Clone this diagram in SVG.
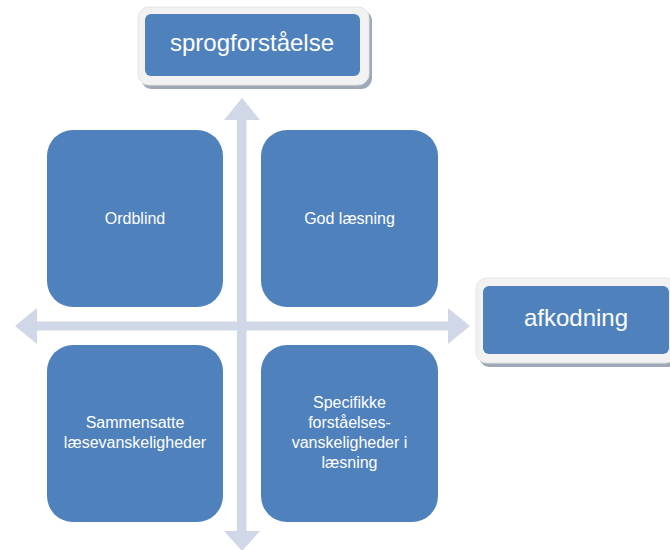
<svg xmlns="http://www.w3.org/2000/svg" width="670" height="550" viewBox="0 0 670 550">
<style>
.q{fill:#4F81BD}
.qt{fill:#FFFFFF;font-family:"Liberation Sans",Arial,sans-serif;font-size:16px;text-anchor:middle}
.lt{fill:#FFFFFF;font-family:"Liberation Sans",Arial,sans-serif;font-size:24px;text-anchor:middle}
.arr{fill:#D0D7E6}
.sh{fill:#9EA8B6}
.fr{fill:#F2F2F2;stroke:#E4E4E4;stroke-width:1}
</style>
<rect width="670" height="550" fill="#FFFFFF"/>
<g id="connectors">
<polygon class="arr" points="15,326 37,308 37,321.5 237,321.5 237,120 224,120 242,98 260,120 246.5,120 246.5,321.5 448,321.5 448,308 470,326 448,344 448,330.5 246.5,330.5 246.5,531 260,531 242,551 224,531 237,531 237,330.5 37,330.5 37,344"/>
</g>
<g id="ordblind">
<rect class="q" x="47" y="130" width="176" height="177" rx="26"/>
<text class="qt" x="135" y="224">Ordblind</text>
</g>
<g id="god-laesning">
<rect class="q" x="261" y="130" width="177" height="177" rx="26"/>
<text class="qt" x="349.5" y="224">God læsning</text>
</g>
<g id="sammensatte">
<rect class="q" x="47" y="345" width="176" height="177" rx="26"/>
<text class="qt" x="135" y="428">Sammensatte</text>
<text class="qt" x="135" y="448">læsevanskeligheder</text>
</g>
<g id="specifikke">
<rect class="q" x="261" y="345" width="177" height="177" rx="26"/>
<text class="qt" x="349.5" y="408">Specifikke</text>
<text class="qt" x="349.5" y="428">forståelses-</text>
<text class="qt" x="349.5" y="448">vanskeligheder i</text>
<text class="qt" x="349.5" y="468">læsning</text>
</g>
<g id="sprogforstaaelse">
<rect class="sh" x="141" y="10" width="231" height="79" rx="11"/>
<rect class="fr" x="138" y="7" width="231" height="78" rx="11"/>
<rect class="q" x="145" y="14" width="215" height="62" rx="6"/>
<text class="lt" x="252" y="51">sprogforståelse</text>
</g>
<g id="afkodning">
<rect class="sh" x="479" y="281" width="200" height="86" rx="11"/>
<rect class="fr" x="476" y="278" width="200" height="85" rx="11"/>
<rect class="q" x="483" y="286" width="186" height="68" rx="6"/>
<text class="lt" x="576" y="326">afkodning</text>
</g>
</svg>
